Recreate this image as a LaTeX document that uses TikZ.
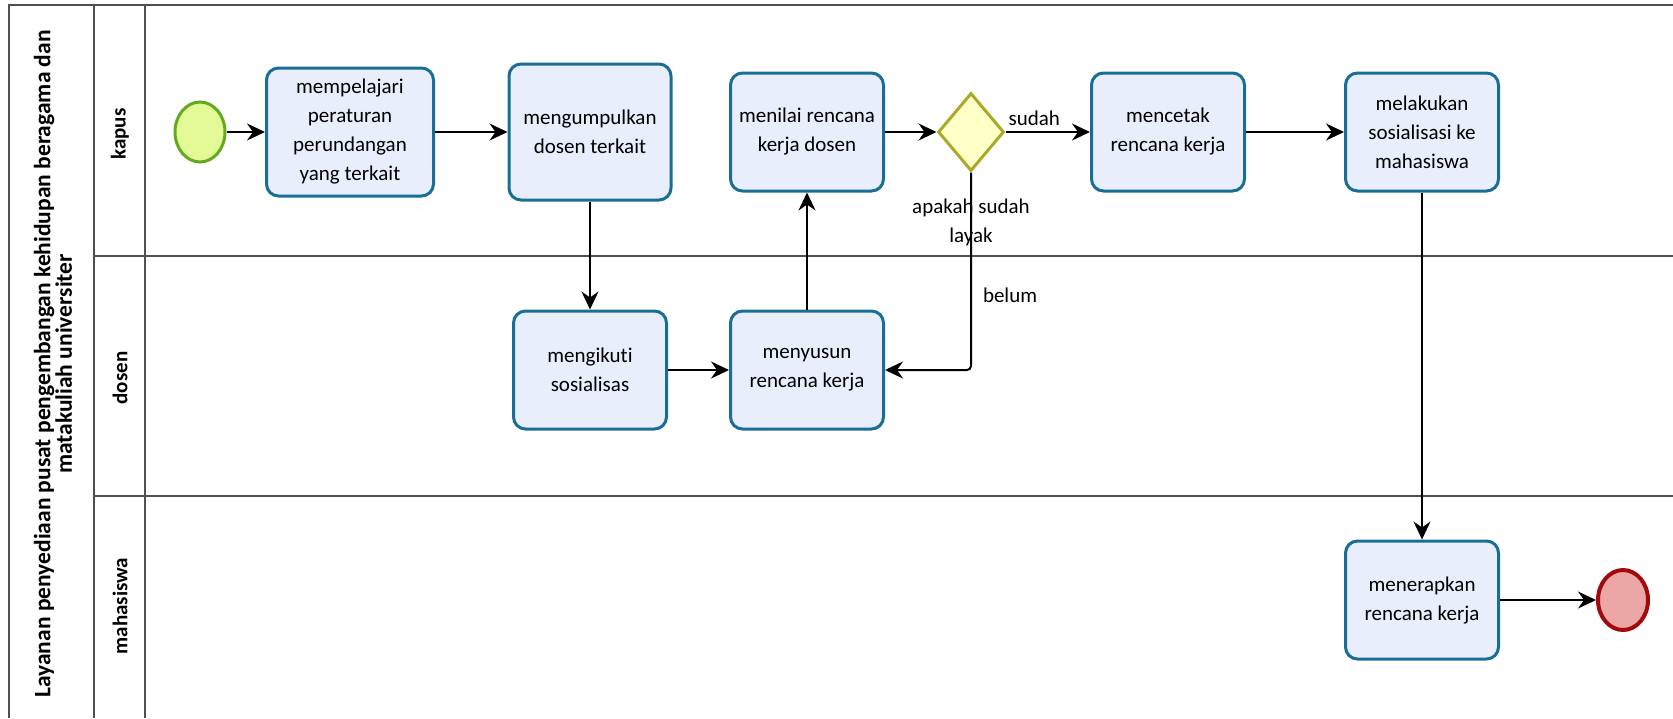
\documentclass[tikz,border=0pt]{standalone}
\usepackage{fontspec}
\setmainfont{Carlito}[Ligatures = NoCommon]
\usepackage{tikz}
\usetikzlibrary{positioning}
\usetikzlibrary{shapes.geometric}
\usetikzlibrary{arrows.meta}
\definecolor{task_fill}{RGB}{233,238,252}
\definecolor{task_line}{RGB}{26,110,150}
\definecolor{start_fill}{RGB}{228,250,150}
\definecolor{start_line}{RGB}{100,170,30}
\definecolor{end_fill}{RGB}{236,166,166}
\definecolor{end_line}{RGB}{160,10,10}
\definecolor{gateway_fill}{RGB}{255,255,200}
\definecolor{gateway_line}{RGB}{170,170,40}
\definecolor{pool_gray}{RGB}{80,80,80}
\tikzstyle{pool_line} = [draw = pool_gray, line width = 1.8]
\tikzstyle{pool_title} = [rotate = 90, align = center, inner sep = 0, font = \bfseries\fontsize{23.5}{20}\selectfont]
\tikzstyle{lane_title} = [rotate = 90, inner sep = 0, font = \bfseries\fontsize{21}{25}\selectfont]
\tikzstyle{bpmn_task} = [draw = task_line, fill = task_fill, line width = 3, rounded corners = 12, minimum width = 153, minimum height = 118, align = center, inner sep = 0, font = \fontsize{21}{29}\selectfont]
\tikzstyle{bpmn_start} = [ellipse, draw = start_line, fill = start_fill, line width = 3, minimum width = 50, minimum height = 60]
\tikzstyle{bpmn_end} = [ellipse, draw = end_line, fill = end_fill, line width = 4, minimum width = 50, minimum height = 60]
\tikzstyle{bpmn_gateway} = [diamond, draw = gateway_line, fill = gateway_fill, line width = 3, aspect = 0.85, minimum width = 66, minimum height = 78, inner sep = 0]
\tikzstyle{bpmn_flow} = [draw = black, line width = 2, -{Stealth[length = 18pt, width = 17pt, inset = 6pt]}]
\tikzstyle{flow_label} = [inner sep = 2, font = \fontsize{21}{29}\selectfont]

\begin{document}
\begin{tikzpicture}[x = 1pt, y = -1pt]
    \useasboundingbox (0,0) rectangle (1673,718);
    % pool and lanes
    \draw [style = {pool_line}] (1673,5) -- (9,5) -- (9,718);
    \draw [style = {pool_line}] (94,5) -- (94,718);
    \draw [style = {pool_line}] (145,5) -- (145,718);
    \draw [style = {pool_line}] (94,256) -- (1673,256);
    \draw [style = {pool_line}] (94,496) -- (1673,496);
    \node (pool_title) [style = {pool_title}] at (53,364) {Layanan penyediaan pusat pengembangan kehidupan beragama dan\\matakuliah universiter};
    \node (lane_kapus) [style = {lane_title}] at (120,134) {kapus};
    \node (lane_dosen) [style = {lane_title}] at (120,378) {dosen};
    \node (lane_mahasiswa) [style = {lane_title}] at (120,606) {mahasiswa};

    % kapus
    \node (start) [style = {bpmn_start}] at (200,132) {};
    \node (pelajari) [style = {bpmn_task}, minimum width = 167, minimum height = 128] at (350,132) {mempelajari\\peraturan\\perundangan\\yang terkait};
    \node (kumpulkan) [style = {bpmn_task}, minimum width = 162, minimum height = 136] at (590,132) {mengumpulkan\\dosen terkait};
    \node (menilai) [style = {bpmn_task}] at (807,132) {menilai rencana\\kerja dosen};
    \node (gateway) [style = {bpmn_gateway}] at (971,132) {};
    \node (gateway_label) [below = 24pt of gateway, style = {flow_label}, align = center] {apakah sudah\\layak};
    \node (cetak) [style = {bpmn_task}] at (1168,132) {mencetak\\rencana kerja};
    \node (sosialisasi) [style = {bpmn_task}] at (1422,132) {melakukan\\sosialisasi ke\\mahasiswa};

    % dosen
    \node (ikuti) [style = {bpmn_task}] at (590,370) {mengikuti\\sosialisas};
    \node (susun) [style = {bpmn_task}] at (807,370) {menyusun\\rencana kerja};

    % mahasiswa
    \node (terapkan) [style = {bpmn_task}] at (1422,600) {menerapkan\\rencana kerja};
    \node (end) [style = {bpmn_end}] at (1623,600) {};

    % flows
    \draw [style = {bpmn_flow}] (start) -- (pelajari);
    \draw [style = {bpmn_flow}] (pelajari) -- (kumpulkan);
    \draw [style = {bpmn_flow}] (kumpulkan) -- (ikuti);
    \draw [style = {bpmn_flow}] (ikuti) -- (susun);
    \draw [style = {bpmn_flow}] (susun) -- (menilai);
    \draw [style = {bpmn_flow}] (menilai) -- (gateway);
    \draw [style = {bpmn_flow}] (gateway) -- node [pos = 0.34, above = 3pt, style = {flow_label}] {sudah} (cetak);
    \draw [style = {bpmn_flow}, rounded corners = 4] (gateway) |- node [pos = 0.31, right = 9pt, style = {flow_label}] {belum} (susun);
    \draw [style = {bpmn_flow}] (cetak) -- (sosialisasi);
    \draw [style = {bpmn_flow}] (sosialisasi) -- (terapkan);
    \draw [style = {bpmn_flow}] (terapkan) -- (end);
\end{tikzpicture}
\end{document}
